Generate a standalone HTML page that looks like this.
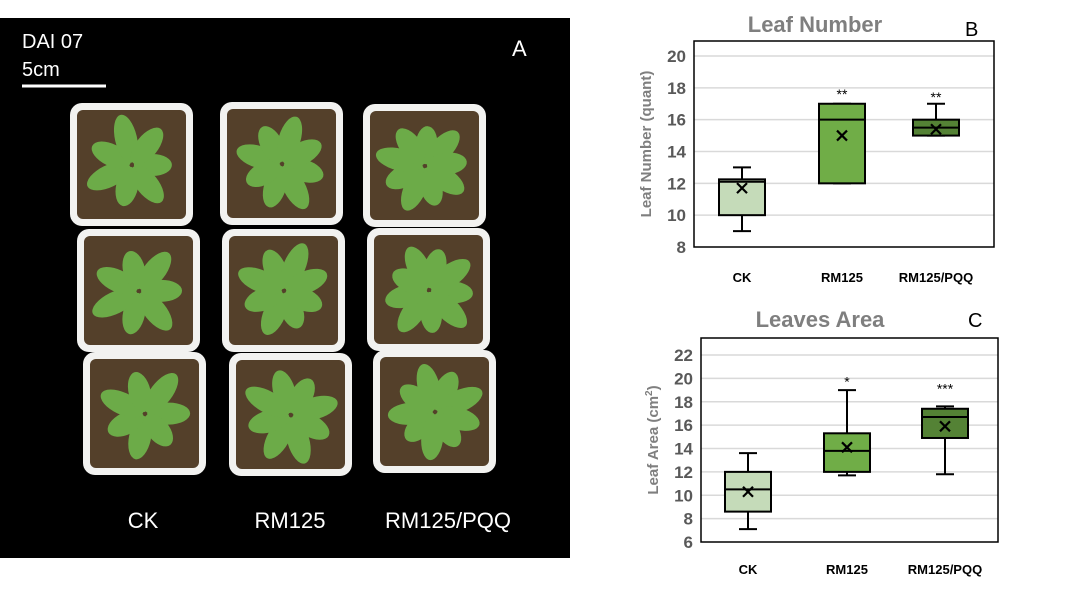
<!DOCTYPE html>
<html><head><meta charset="utf-8"><style>
body{margin:0;background:#fff;width:1070px;height:589px;overflow:hidden;font-family:"Liberation Sans",sans-serif}
svg{position:absolute;left:0;top:0}
</style></head><body>
<svg id="s" width="1070" height="589" viewBox="0 0 1070 589">
<g id="photo">
<rect x="0" y="18" width="570" height="540" fill="#000"/>
</g>
<text x="22" y="48" fill="#fff" font-size="20">DAI 07</text>
<text x="22" y="76" fill="#fff" font-size="20">5cm</text>
<line x1="22" y1="86" x2="106" y2="86" stroke="#fff" stroke-width="3"/>
<text x="512" y="56" fill="#fff" font-size="22">A</text>
<text x="143" y="528" fill="#fff" font-size="22" text-anchor="middle">CK</text>
<text x="290" y="528" fill="#fff" font-size="22" text-anchor="middle">RM125</text>
<text x="448" y="528" fill="#fff" font-size="22" text-anchor="middle">RM125/PQQ</text>

<text x="815" y="32" fill="#7f7f7f" font-size="22" font-weight="bold" text-anchor="middle">Leaf Number</text>
<text x="965" y="36" fill="#000" font-size="20">B</text>
<text x="820" y="327" fill="#7f7f7f" font-size="22" font-weight="bold" text-anchor="middle">Leaves Area</text>
<text x="968" y="327" fill="#000" font-size="20">C</text>
<g id="cb"></g>
<g id="cc"></g>
</svg>
<script>
const categories=["CK","RM125","RM125/PQQ"];
const lnMin=[9,12,15], lnQ1=[10,12,15], lnMed=[12.1,16,15.5], lnQ3=[12.25,17,16], lnMax=[13,17,17], lnMean=[11.7,15,15.4];
const lnStars=["","**","**"], lnStarY=[0,17.8,17.6];
const lnTicks=[8,10,12,14,16,18,20];
const laMin=[7.1,11.7,11.8], laQ1=[8.6,12,14.9], laMed=[10.5,13.8,16.7], laQ3=[12,15.3,17.4], laMax=[13.6,19,17.6], laMean=[10.3,14.1,15.9];
const laStars=["","*","***"], laStarY=[0,20,19.4];
const laTicks=[6,8,10,12,14,16,18,20,22];
const fills=["#c5dbb9","#70ad47","#548235"];
const NS="http://www.w3.org/2000/svg";
function mk(p,t,a){const e=document.createElementNS(NS,t);for(const k in a)e.setAttribute(k,a[k]);p.appendChild(e);return e;}

const photo=document.getElementById('photo');
const pots=[[70,103],[220,102],[363,104],[77,229],[222,229],[367,228],[83,352],[229,353],[373,350]];
pots.forEach((p,i)=>{
  const pot=mk(photo,'rect',{x:p[0],y:p[1],width:123,height:123,rx:12,fill:'#f2f2f0'});
  
  
  const soil=mk(photo,'rect',{x:p[0]+7,y:p[1]+7,width:109,height:109,rx:6,fill:'#54402a'});
  
  
  const cx=p[0]+62,cy=p[1]+62;
  const n=7+(i%3);
  for(let k=0;k<n;k++){
    const ang=k*360/n+i*17;
    const len=38+((k*7+i*3)%12);
    const lf=mk(photo,'ellipse',{cx:cx+len*0.55,cy:cy,rx:len*0.5,ry:11,fill:'#6cab48',transform:`rotate(${ang} ${cx} ${cy})`});
    
    
  }
});

function chart(gid,o){
  const g=document.getElementById(gid);
  const y=v=>o.y0+(v-o.vmin)*(o.y1-o.y0)/(o.vmax-o.vmin);
  o.ticks.forEach(t=>{
    if(t!==o.vmin){const gl=mk(g,'line',{x1:o.x0,x2:o.x1,y1:y(t),y2:y(t),stroke:'#d9d9d9','stroke-width':1.5});
    }
    const tl=mk(g,'text',{x:o.x0-8,y:y(t)+6,'text-anchor':'end','font-size':17,'font-weight':'bold',fill:'#595959'});
    tl.textContent=t;
    
  });
  const fr=mk(g,'rect',{x:o.x0,y:o.top,width:o.x1-o.x0,height:o.y0-o.top,fill:'none',stroke:'#000','stroke-width':1.5});
  
  const yt=mk(g,'text',{x:0,y:0,'text-anchor':'middle','font-size':15,'font-weight':'bold',fill:'#7f7f7f',transform:`translate(${o.x0-43},${(o.top+o.y0)/2}) rotate(-90)`});
  yt.innerHTML=o.ytitle;
  
  categories.forEach((c,i)=>{
    const cx=o.cx[i],w=46;
    const wk=mk(g,'path',{d:`M${cx} ${y(o.min[i])}V${y(o.q1[i])}M${cx} ${y(o.q3[i])}V${y(o.max[i])}M${cx-9} ${y(o.min[i])}H${cx+9}M${cx-9} ${y(o.max[i])}H${cx+9}`,stroke:'#000','stroke-width':2,fill:'none'});
    
    const bx=mk(g,'rect',{x:cx-w/2,y:y(o.q3[i]),width:w,height:y(o.q1[i])-y(o.q3[i]),fill:fills[i],stroke:'#000','stroke-width':2});
    
    const md=mk(g,'line',{x1:cx-w/2,x2:cx+w/2,y1:y(o.med[i]),y2:y(o.med[i]),stroke:'#000','stroke-width':2});
    
    const my=y(o.mean[i]);
    const mn=mk(g,'path',{d:`M${cx-5} ${my-5}L${cx+5} ${my+5}M${cx-5} ${my+5}L${cx+5} ${my-5}`,stroke:'#000','stroke-width':2.2});
    
    if(o.stars[i]){const st=mk(g,'text',{x:cx,y:y(o.starY[i])+8,'text-anchor':'middle','font-size':14,fill:'#000'});
      st.textContent=o.stars[i];}
    const xl=mk(g,'text',{x:cx,y:o.xly,'text-anchor':'middle','font-size':13,'font-weight':'bold',fill:'#000'});
    xl.textContent=c;
  });
}
chart('cb',{x0:694,x1:994,y0:247,y1:56,top:41,vmin:8,vmax:20,ticks:lnTicks,cx:[742,842,936],min:lnMin,q1:lnQ1,med:lnMed,q3:lnQ3,max:lnMax,mean:lnMean,stars:lnStars,starY:lnStarY,xly:282,ytitle:'Leaf Number (quant)'});
chart('cc',{x0:701,x1:998,y0:542,y1:355,top:338,vmin:6,vmax:22,ticks:laTicks,cx:[748,847,945],min:laMin,q1:laQ1,med:laMed,q3:laQ3,max:laMax,mean:laMean,stars:laStars,starY:laStarY,xly:574,ytitle:'Leaf Area (cm<tspan font-size="10" dy="-6">2</tspan><tspan dy="6">)</tspan>'});
</script>
</body></html>
